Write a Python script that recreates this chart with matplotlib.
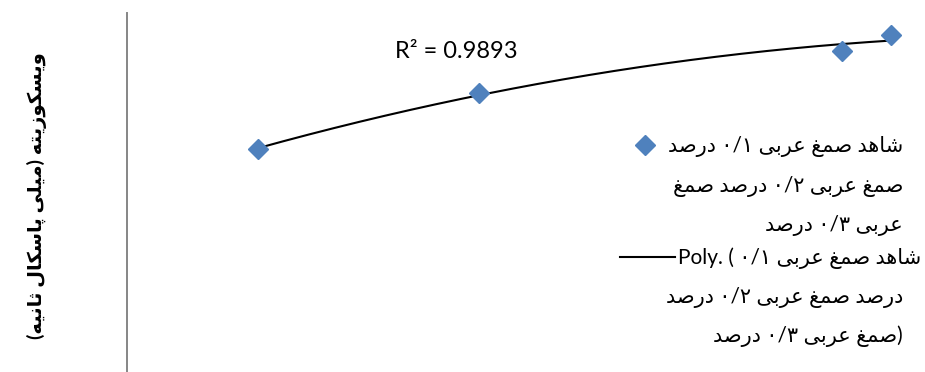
import numpy as np
import matplotlib
matplotlib.use("Agg")
from matplotlib import pyplot as plt
from matplotlib.lines import Line2D

# data (x has no visible axis, so units are arbitrary 0-10)
x_vals = [1.64, 4.41, 8.96, 9.57]
y_vals = [6.21, 7.77, 8.94, 9.39]
r2_label = "R² = 0.9893"
y_label = "ویسکوزیته (میلی پاسکال ثانیه)"
series_lines = ["شاهد صمغ عربی ۰/۱ درصد", "صمغ عربی ۰/۲ درصد صمغ", "عربی ۰/۳ درصد"]
trend_lines = ["شاهد صمغ عربی ۰/۱", "درصد صمغ عربی ۰/۲ درصد", "صمغ عربی ۰/۳ درصد"]

BLUE = "#4F81BD"
W, H = 925, 372

#######################################################################
# matplotlib does no arabic shaping, so pick presentation forms by hand
# (isolated, final, initial, medial) - None = letter does not join forward
FORMS = {
    'ا': ('\ufe8d', '\ufe8e', None, None),
    'ب': ('\ufe8f', '\ufe90', '\ufe91', '\ufe92'),
    'پ': ('\ufb56', '\ufb57', '\ufb58', '\ufb59'),
    'ت': ('\ufe95', '\ufe96', '\ufe97', '\ufe98'),
    'ث': ('\ufe99', '\ufe9a', '\ufe9b', '\ufe9c'),
    'د': ('\ufea9', '\ufeaa', None, None),
    'ر': ('\ufead', '\ufeae', None, None),
    'ز': ('\ufeaf', '\ufeb0', None, None),
    'س': ('\ufeb1', '\ufeb2', '\ufeb3', '\ufeb4'),
    'ش': ('\ufeb5', '\ufeb6', '\ufeb7', '\ufeb8'),
    'ص': ('\ufeb9', '\ufeba', '\ufebb', '\ufebc'),
    'ع': ('\ufec9', '\ufeca', '\ufecb', '\ufecc'),
    'غ': ('\ufecd', '\ufece', '\ufecf', '\ufed0'),
    'ک': ('\ufb8e', '\ufb8f', '\ufb90', '\ufb91'),
    'ل': ('\ufedd', '\ufede', '\ufedf', '\ufee0'),
    'م': ('\ufee1', '\ufee2', '\ufee3', '\ufee4'),
    'ن': ('\ufee5', '\ufee6', '\ufee7', '\ufee8'),
    'ه': ('\ufee9', '\ufeea', '\ufeeb', '\ufeec'),
    'و': ('\ufeed', '\ufeee', None, None),
    'ی': ('\ufbfc', '\ufbfd', '\ufbfe', '\ufbff'),
}
MIRROR = {'(': ')', ')': '('}


def shape_word(w):
    out = []
    for i, ch in enumerate(w):
        if ch not in FORMS:
            out.append(MIRROR.get(ch, ch))
            continue
        prev = w[i - 1] if i > 0 else ''
        nxt = w[i + 1] if i + 1 < len(w) else ''
        join_prev = prev in FORMS and FORMS[prev][2] is not None
        join_next = FORMS[ch][2] is not None and nxt in FORMS
        iso, fin, ini, med = FORMS[ch]
        if join_prev and join_next:
            out.append(med)
        elif join_prev:
            out.append(fin)
        elif join_next:
            out.append(ini)
        else:
            out.append(iso)
    return ''.join(reversed(out))


def rtl(line):
    toks = [shape_word(t) if any(c in FORMS for c in t) else t for t in line.split(' ')]
    return ' '.join(reversed(toks))


def fx(px):
    return px / W


def fy(py):
    return 1 - py / H
#######################################################################

FONT = ['Lato', 'DejaVu Sans']
plt.rcParams['font.family'] = FONT

fig = plt.figure(figsize=(W / 100, H / 100), dpi=100)
ax = fig.add_axes([fx(127), 0, fx(925) - fx(127), fy(13)])

ax.plot(x_vals, y_vals, linestyle='none', marker='D', markersize=10,
        color=BLUE, zorder=3, clip_on=False)

# 2nd order polynomial trendline like excel
coef = np.polyfit(x_vals, y_vals, 2)
xs = np.linspace(x_vals[0], x_vals[-1], 200)
ax.plot(xs, np.polyval(coef, xs), color='black', lw=1.5, zorder=2)

ax.set_xlim(0, 10)
ax.set_ylim(0, 10)
ax.set_xticks([])
ax.set_yticks([])
for s in ['top', 'right', 'bottom']:
    ax.spines[s].set_visible(False)
ax.spines['left'].set_color('#868686')
ax.spines['left'].set_linewidth(1.4)

fig.text(fx(37), fy(196), rtl(y_label), rotation=90, ha='center', va='center',
         fontsize=14, fontweight='bold', family=FONT)

fig.text(fx(395), fy(58), r2_label, ha='left', va='baseline', fontsize=17, family=FONT)

# legend drawn by hand: excel puts the key next to the first line of each entry
fig.add_artist(Line2D([fx(645)], [fy(145)], marker='D', markersize=10,
                      color=BLUE, linestyle='none', transform=fig.transFigure))
fig.add_artist(Line2D([fx(620), fx(675)], [fy(257), fy(257)], color='black',
                      lw=1.5, transform=fig.transFigure))

for txt, yb in zip(series_lines, [152, 192, 231]):
    fig.text(fx(903), fy(yb), rtl(txt), ha='right', va='baseline', fontsize=15, family=FONT)

poly_rows = ["Poly. ( " + rtl(trend_lines[0]),
             rtl(trend_lines[1]),
             rtl(trend_lines[2]) + ")"]
fig.text(fx(678), fy(264), poly_rows[0], ha='left', va='baseline', fontsize=15, family=FONT)
for txt, yb in zip(poly_rows[1:], [303, 342]):
    fig.text(fx(903), fy(yb), txt, ha='right', va='baseline', fontsize=15, family=FONT)

fig.savefig("out.png", dpi=100)
